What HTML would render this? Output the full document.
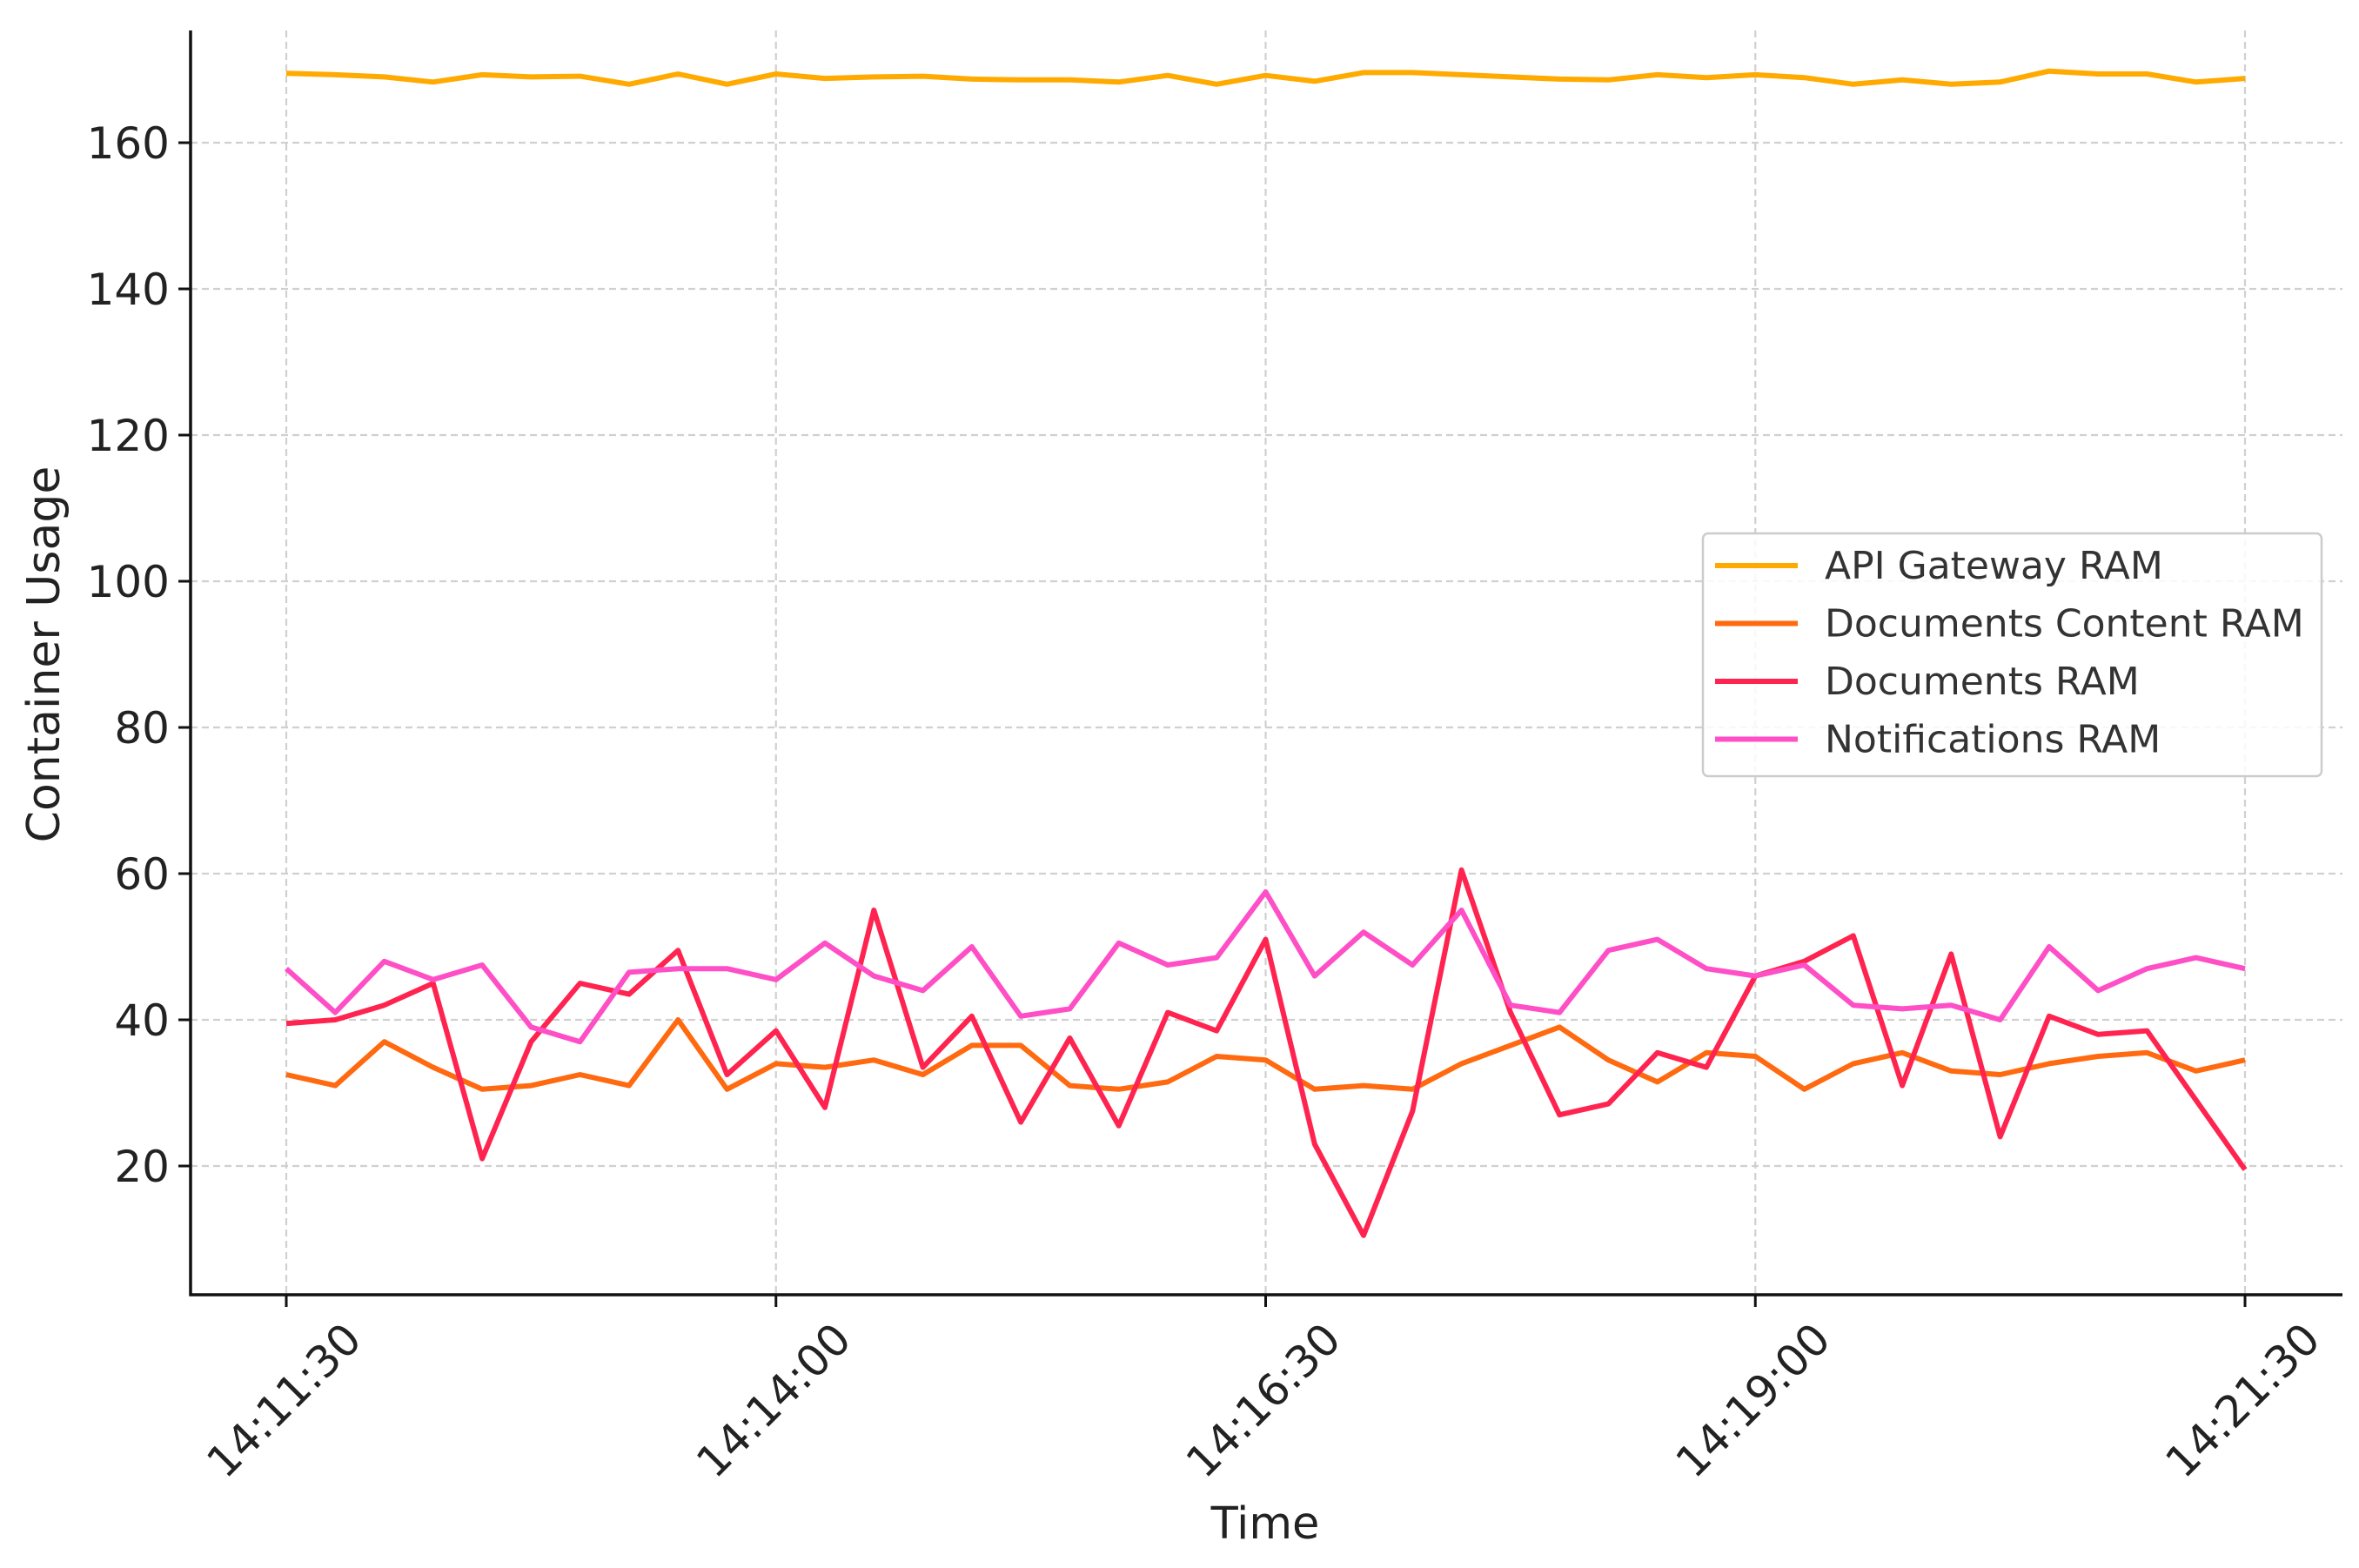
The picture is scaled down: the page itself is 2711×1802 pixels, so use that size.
<!DOCTYPE html>
<html><head><meta charset="utf-8"><style>
html,body{margin:0;padding:0;background:#fff;}
svg{display:block;font-family:"DejaVu Sans","Liberation Sans",sans-serif;}
</style></head><body>
<svg id="chart" width="2711" height="1802" viewBox="0 0 2711 1802" xmlns="http://www.w3.org/2000/svg">
<g id="grid"></g>
<g id="series"></g>
<g id="axes"></g>
<text x="0" y="0" transform="translate(68,752) rotate(-90)" text-anchor="middle" font-size="52" fill="#222">Container Usage</text>
<text x="1454" y="1768" text-anchor="middle" font-size="51" fill="#222">Time</text>
<g>
<rect x="1957" y="613" width="711" height="279" rx="6" fill="#fff" fill-opacity="0.85" stroke="#ccc" stroke-width="2.5"/>
<g id="legendItems"></g>
</g>
</svg>
<script>
const timeLabels = ["14:11:30","14:14:00","14:16:30","14:19:00","14:21:30"];
const yTicks = [20,40,60,80,100,120,140,160];
const seriesNames = ["API Gateway RAM","Documents Content RAM","Documents RAM","Notifications RAM"];
const apiGateway = [169.5,169.3,169,168.3,169.3,169,169.1,168,169.4,168,169.4,168.8,169,169.1,168.7,168.6,168.6,168.3,169.2,168,169.2,168.4,169.6,169.6,169.3,169,168.7,168.6,169.3,168.9,169.3,168.9,168,168.6,168,168.3,169.8,169.4,169.4,168.3,168.8];
const docsContent = [32.5,31,37,33.5,30.5,31,32.5,31,40,30.5,34,33.5,34.5,32.5,36.5,36.5,31,30.5,31.5,35,34.5,30.5,31,30.5,34,36.5,39,34.5,31.5,35.5,35,30.5,34,35.5,33,32.5,34,35,35.5,33,34.5];
const documents = [39.5,40,42,45,21,37,45,43.5,49.5,32.5,38.5,28,55,33.5,40.5,26,37.5,25.5,41,38.5,51,23,10.5,27.5,60.5,41,27,28.5,35.5,33.5,46,48,51.5,31,49,24,40.5,38,38.5,29,19.5];
const notifications = [47,41,48,45.5,47.5,39,37,46.5,47,47,45.5,50.5,46,44,50,40.5,41.5,50.5,47.5,48.5,57.5,46,52,47.5,55,42,41,49.5,51,47,46,47.5,42,41.5,42,40,50,44,47,48.5,47];

const colors = ["#FFAA00","#FF6A10","#FF2450","#FF4FC6"];
const NS = "http://www.w3.org/2000/svg";
const L=219, R=2692, T=35, B=1488;
const x0=329, x1=2580;
const nPts = apiGateway.length;
function xs(i){return x0 + (x1-x0)*i/(nPts-1);}
const y160=164, y20=1340;
function ys(v){return y20 + (v-20)*(y160-y20)/140;}
function mk(tag, attrs, parent){const e=document.createElementNS(NS,tag);for(const k in attrs)e.setAttribute(k,attrs[k]);parent.appendChild(e);return e;}

const grid=document.getElementById('grid'), axes=document.getElementById('axes'), ser=document.getElementById('series');
yTicks.forEach(v=>{
  const g=mk('line',{x1:L,x2:R,y1:ys(v),y2:ys(v),stroke:"#d0d0d0","stroke-width":2.2,"stroke-dasharray":"8,5"},grid);
  
  
  const t=mk('line',{x1:L-14,x2:L,y1:ys(v),y2:ys(v),stroke:"#111","stroke-width":3},axes);
  
  
  const lb=mk('text',{x:L-24,y:ys(v)+18,"text-anchor":"end","font-size":50,fill:"#222"},axes);
  lb.textContent=v;
  
  
});
timeLabels.forEach((s,k)=>{
  const x=xs(k*(nPts-1)/(timeLabels.length-1));
  const g=mk('line',{x1:x,x2:x,y1:T,y2:B,stroke:"#d0d0d0","stroke-width":2.2,"stroke-dasharray":"8,5"},grid);
  
  
  const t=mk('line',{x1:x,x2:x,y1:B,y2:B+14,stroke:"#111","stroke-width":3},axes);
  
  
  const lb=mk('text',{x:0,y:0,transform:`translate(${x},${1612}) rotate(-45)`,"text-anchor":"middle","dominant-baseline":"middle","font-size":50,fill:"#222"},axes);
  lb.textContent=s;
  
  
});
const sp1=mk('line',{x1:L,x2:L,y1:T,y2:B+1.5,stroke:"#111","stroke-width":3.5},axes);


const sp2=mk('line',{x1:L-1.5,x2:R,y1:B,y2:B,stroke:"#111","stroke-width":3.5},axes);



const allSeries=[apiGateway,docsContent,documents,notifications];
const snames=['line-api-gateway','line-documents-content','line-documents','line-notifications'];
allSeries.forEach((arr,si)=>{
  const d=arr.map((v,i)=>(i?'L':'M')+xs(i).toFixed(1)+','+ys(v).toFixed(1)).join(' ');
  const p=mk('path',{d:d,fill:"none",stroke:colors[si],"stroke-width":6,"stroke-linejoin":"round"},ser);
  
  
});
const li=document.getElementById('legendItems');
seriesNames.forEach((n,i)=>{
  const y=650+i*66.5;
  const ln=mk('line',{x1:1971,x2:2066,y1:y,y2:y,stroke:colors[i],"stroke-width":6},li);
  
  
  const t=mk('text',{x:2097,y:y+15,"font-size":44,fill:"#333"},li);
  t.textContent=n;
  
  
});
</script>
</body></html>
